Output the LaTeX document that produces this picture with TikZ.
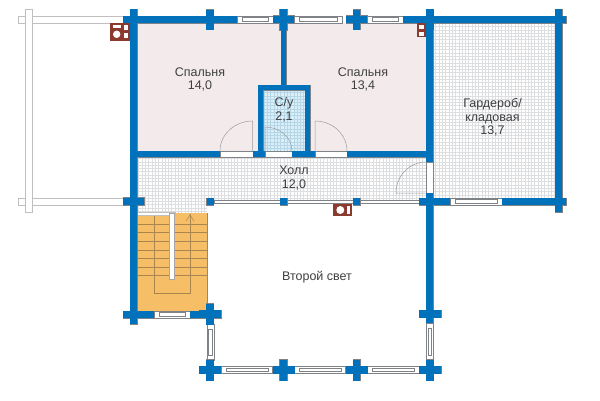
\documentclass[tikz,border=0pt]{standalone}
\usepackage{fontspec}
\setmainfont{Liberation Sans}
\usetikzlibrary{positioning}
\definecolor{wallblue}{HTML}{0072BC}
\definecolor{wallgray}{HTML}{7F8286}
\definecolor{roompink}{HTML}{F3EBEB}
\definecolor{bathblue}{HTML}{DCEFF8}
\definecolor{bathgrid}{HTML}{B4D6E6}
\definecolor{floorgrid}{HTML}{DDDEDF}
\definecolor{stairfill}{HTML}{F7BE68}
\definecolor{stairline}{HTML}{A98550}
\definecolor{stovebrown}{HTML}{8C3A2E}
\definecolor{labelgray}{HTML}{3F3F41}
\tikzset{font={\fontsize{12.5pt}{13.5pt}\selectfont}}
\tikzstyle{room-label}=[text=labelgray,align=center,inner sep=0pt]
\tikzstyle{grid-line}=[line width=0.35pt,step=3.3pt]
\tikzstyle{thin-edge}=[draw=wallgray,line width=0.7pt]
\tikzstyle{open-part}=[thin-edge,fill=white]
\tikzstyle{door-leaf}=[draw=wallgray!80,line width=0.5pt]
\tikzstyle{stair-step}=[draw=stairline,line width=0.7pt]
\tikzstyle{terrace-part}=[draw=black!25,line width=1pt]
\newcommand{\logcross}[4]{% x, y, half width, half height
   \path[wall-part] ({#1-#3},{#2-3.7}) rectangle ({#1+#3},{#2+3.7});
   \path[wall-part] ({#1-3.7},{#2-#4}) rectangle ({#1+3.7},{#2+#4});
}
\newcommand{\windowh}[3]{% x from, x to, y
   \path[open-part] (#1,{#3-3.5}) rectangle (#2,{#3+3.5});
   \path[thin-edge] ({#1+5},{#3-1.8}) rectangle ({#2-5},{#3+1.8});
}
\newcommand{\windowv}[3]{% x, y from, y to
   \path[open-part] ({#1-3.5},#2) rectangle ({#1+3.5},#3);
   \path[thin-edge] ({#1-1.8},{#2+5}) rectangle ({#1+1.8},{#3-5});
}
\newcommand{\allwalls}{
   % outer walls
   \path[wall-part] (123,16) rectangle (237,23);
   \path[wall-part] (273,16) rectangle (294,23);
   \path[wall-part] (346,16) rectangle (367,23);
   \path[wall-part] (403,16) rectangle (566,23);
   \path[wall-part] (130,9) rectangle (137,324);
   \path[wall-part] (426,9) rectangle (433,162);
   \path[wall-part] (426,193) rectangle (433,323);
   \path[wall-part] (555,9) rectangle (562,212);
   \path[wall-part] (419,198) rectangle (450,205);
   \path[wall-part] (502,198) rectangle (566,205);
   \path[wall-part] (123,311) rectangle (154,318);
   \path[wall-part] (190,311) rectangle (221,318);
   % inner walls
   \path[wall-part] (137,151) rectangle (220,157);
   \path[wall-part] (253,151) rectangle (265,157);
   \path[wall-part] (292,151) rectangle (315,157);
   \path[wall-part] (347,151) rectangle (426,157);
   \path[wall-part] (281,23) rectangle (286,85);
   \path[wall-part] (258,85) rectangle (310,90);
   \path[wall-part] (258,85) rectangle (263,157);
   \path[wall-part] (305,85) rectangle (310,157);
   % log ends
   \logcross{133.5}{201.5}{10.5}{3.7}
   \logcross{210}{19.5}{3.7}{10}
   \logcross{283.5}{19.5}{10.5}{10.5}
   \logcross{356.7}{19.5}{10.5}{10}
   \logcross{430}{19.5}{3.7}{10.5}
   \logcross{210}{314}{11}{10.5}
   \logcross{430}{314}{11}{3.7}
   \logcross{210}{370}{11}{10.5}
   \logcross{283.5}{370}{11}{10.5}
   \logcross{356.7}{370}{11}{10.5}
   \logcross{430}{370}{11}{10.5}
   % free standing posts
   \path[wall-part] (206.5,198) rectangle (213.8,205);
   \path[wall-part] (280,198) rectangle (287.2,205);
   \path[wall-part] (353,198) rectangle (360.3,205);
}
\begin{document}
\begin{tikzpicture}[x=1pt,y=-1pt]
   \useasboundingbox (0,0) rectangle (600,400);
   % rooms
   \fill[roompink] (137,23) rectangle (281,151);
   \fill[roompink] (286,23) rectangle (426,151);
   \fill[bathblue] (263,90) rectangle (305,151);
   \begin{scope}
      \clip (263,90) rectangle (305,151);
      \draw[grid-line,bathgrid] (260,154) grid (308,87);
   \end{scope}
   \begin{scope}
      \clip (137,157) -- (426,157) -- (426,200) -- (207,200) -- (207,213) -- (137,213) -- cycle;
      \draw[grid-line,floorgrid] (135,215) grid (428,155);
   \end{scope}
   \begin{scope}
      \clip (433,23) rectangle (555,198);
      \draw[grid-line,floorgrid] (431,200) grid (557,21);
   \end{scope}
   % stairs
   \fill[stairfill] (137,213) rectangle (207,311);
   \foreach \stepy in {224,232.5,241,250,258.5,267,275.5}
      \draw[stair-step] (137,\stepy) -- (207,\stepy);
   \draw[stair-step] (154.5,214) -- (154.5,293) -- (190,293) -- (190,214);
   \draw[stair-step] (207,213) -- (207,311);
   \draw[stair-step,line width=0.5pt] (186,221) -- (190,215) -- (194,221);
   \path[open-part,draw=black!25] (137,212.5) rectangle (175,215);
   \path[open-part,draw=black!35] (169.5,213) rectangle (174.5,279);
   % terrace
   \path[terrace-part,fill=white] (18,16) rectangle (123,23);
   \path[terrace-part,fill=white] (18,198) rectangle (123,205);
   \path[terrace-part,fill=white] (25,9) rectangle (32,212);
   \fill[white] (26,16.5) rectangle (31,22.5);
   \fill[white] (26,198.5) rectangle (31,204.5);
   % railing of the hall
   \path[open-part] (214,200) rectangle (353,203);
   \path[open-part] (360,200) rectangle (419,203);
   % doors
   \path[open-part] (220,151) rectangle (253,157);
   \path[open-part] (265,151) rectangle (292,157);
   \path[open-part] (315,151) rectangle (347,157);
   \path[open-part] (426,162) rectangle (433,193);
   \draw[door-leaf] (252.7,151) -- (252.7,121) .. controls (234.7,121) and (220,134.4) .. (220,151);
   \draw[door-leaf] (265,151) -- (265,127) .. controls (280,127) and (292,137.7) .. (292,151);
   \draw[door-leaf] (315,151) -- (315,121) .. controls (332.7,121) and (347,134.4) .. (347,151);
   \draw[door-leaf] (426,162) .. controls (409.4,162) and (396,175.9) .. (396,193) -- (426,193);
   % windows
   \windowh{237}{273}{19.5}
   \windowh{294}{342}{19.5}
   \windowh{367}{403}{19.5}
   \windowh{450}{502}{201.5}
   \windowh{154}{190}{314.5}
   \windowh{221}{273}{370}
   \windowh{294}{346}{370}
   \windowh{367}{419}{370}
   \windowv{210.5}{324}{360}
   \windowv{430}{323}{360}
   % walls, outline first
   \tikzset{wall-part/.style={draw=wallgray,line width=0.8pt}}
   \allwalls
   \tikzset{wall-part/.style={fill=wallblue}}
   \allwalls
   % stoves
   \fill[stovebrown] (110,23) rectangle (130,41);
   \fill[white] (113,25) rectangle (121,28);
   \fill[white] (116.7,34.3) circle (3.7);
   \fill[white] (124,25) rectangle (128,30);
   \fill[white] (124,33) rectangle (128,38);
   \fill[stovebrown] (417,23) rectangle (426,37);
   \fill[white] (419,25) rectangle (424,29);
   \fill[white] (419,32) rectangle (424,35.5);
   \fill[stovebrown] (333,204) rectangle (352,216);
   \fill[white] (340.3,210) circle (4);
   \fill[white] (346.8,206) rectangle (349.5,214);
   % labels
   \node[room-label] (bed-west) at (200,79.5) {Спальня\\14,0};
   \node[room-label] (bed-east) at (363,79.5) {Спальня\\13,4};
   \node[room-label] (bath) at (284,110) {С/у\\2,1};
   \node[room-label] (hall) at (294,178) {Холл\\12,0};
   \node[room-label] (wardrobe) at (492.5,117.5) {Гардероб/\\кладовая\\13,7};
   \node[room-label] (void) at (317,277) {Второй свет};
\end{tikzpicture}
\end{document}
